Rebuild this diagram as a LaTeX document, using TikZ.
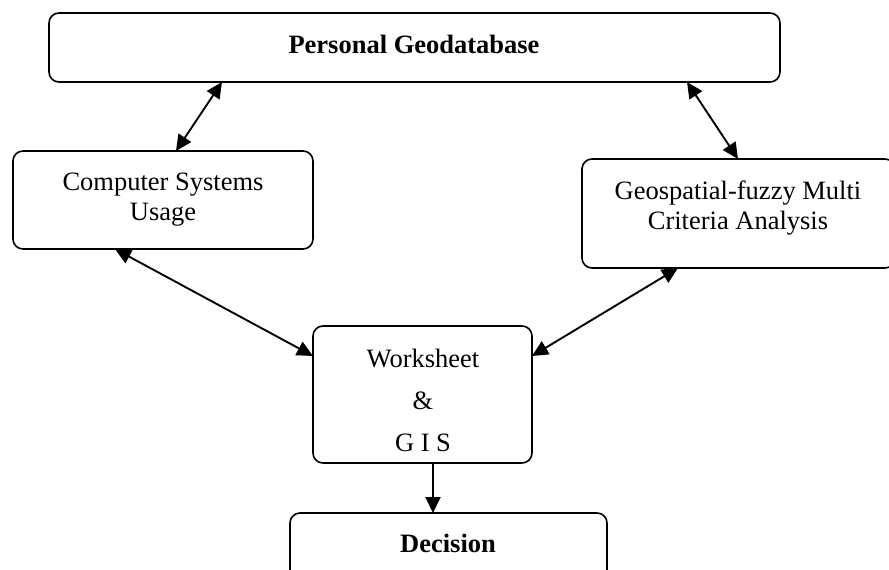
\documentclass[tikz,border=0pt]{standalone}
\usepackage{fontspec}
\setmainfont{Liberation Serif}
\usetikzlibrary{arrows.meta,calc}
\begin{document}
\begin{tikzpicture}[x=1pt,y=-1pt,
  box/.style={draw,line width=1.6pt,rounded corners=10pt,inner sep=0pt,outer sep=0pt,anchor=north west},
  txt/.style={font=\fontsize{26.5}{30}\selectfont,align=center,inner sep=0pt},
  link/.style={line width=1.9pt,{Triangle[length=16pt,width=15pt]}-{Triangle[length=16pt,width=15pt]}},
  oneway/.style={line width=1.9pt,-{Triangle[length=16pt,width=15pt]}}]
\useasboundingbox (0,0) rectangle (889,570);
\node[box,minimum width=731pt,minimum height=69pt] (pg) at (49,13) {};
\node[box,minimum width=300pt,minimum height=98pt] (csu) at (13,151) {};
\node[box,minimum width=313pt,minimum height=109pt] (gm) at (582,159) {};
\node[box,minimum width=219pt,minimum height=137pt] (ws) at (313,326) {};
\node[box,minimum width=317pt,minimum height=87pt] (dec) at (290,513) {};
\node[txt,font=\fontsize{26.5}{30}\selectfont\bfseries] (pgt) at (414,44) {Personal Geodatabase};
\node[txt] (csut) at (163,200) {Computer Systems\\Usage};
\node[txt] (gmt) at (738,208) {Geospatial-fuzzy Multi\\Criteria Analysis};
\node[txt,font=\fontsize{26.5}{42}\selectfont] (wst) at (423,400) {Worksheet\\\&\\G I S};
\node[txt,font=\fontsize{26.5}{30}\selectfont\bfseries] (dect) at (448,543) {Decision};
\draw[link] ($(pg.south west)+(173,0)$) -- ($(csu.north west)+(163,0)$);
\draw[link] ($(pg.south west)+(638,0)$) -- ($(gm.north west)+(156,0)$);
\draw[link] ($(csu.south west)+(102,0)$) -- ($(ws.north west)+(0,30)$);
\draw[link] ($(gm.south west)+(96,0)$) -- ($(ws.north east)+(0,30)$);
\draw[oneway] ($(ws.south west)+(120,0)$) -- ($(dec.north west)+(143,0)$);
\end{tikzpicture}
\end{document}
